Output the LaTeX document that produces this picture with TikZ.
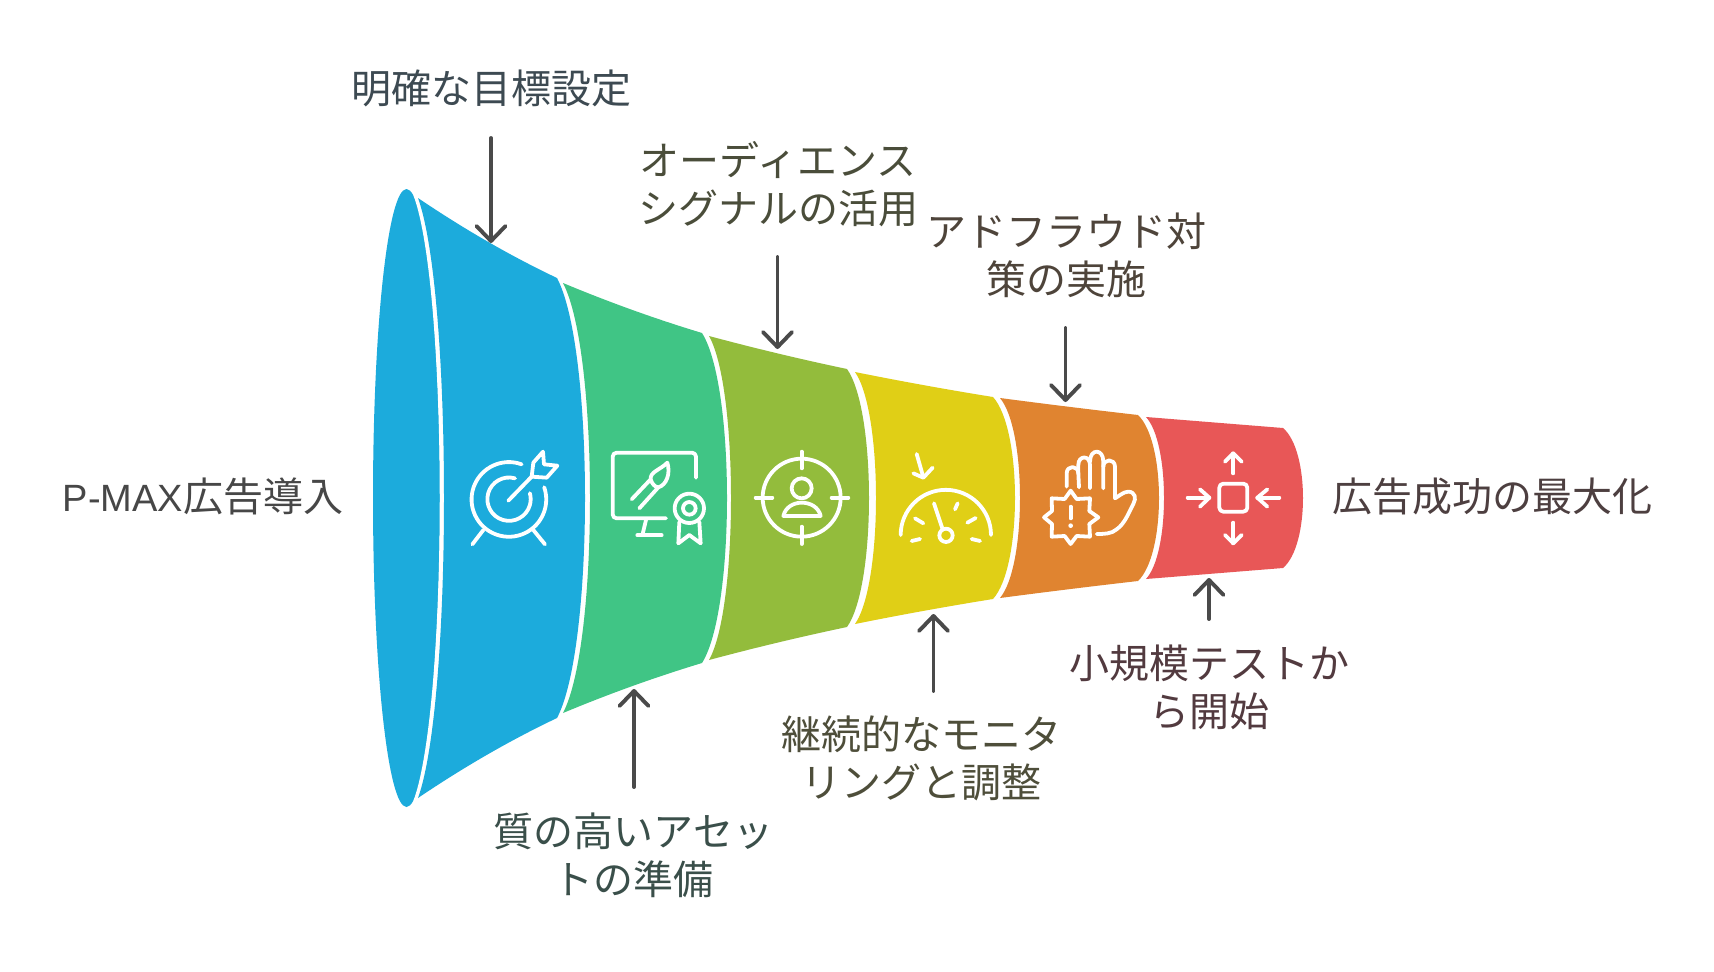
\documentclass[tikz,border=0pt]{standalone}
\usepackage{fontspec}
\setmainfont{Noto Sans CJK JP}
\newfontfamily\latinpart{Liberation Sans}
\usetikzlibrary{arrows.meta}
\definecolor{cblue}{HTML}{1CABDC}
\definecolor{cgreen}{HTML}{40C585}
\definecolor{colive}{HTML}{93BC3C}
\definecolor{cyellow}{HTML}{E0CF16}
\definecolor{corange}{HTML}{E08430}
\definecolor{cred}{HTML}{E85757}
\definecolor{arrowgrey}{HTML}{4A4A4A}
\tikzset{
  lbl/.style={align=center,inner sep=0pt,font=\fontsize{40}{48}\selectfont},
  conn/.style={draw=arrowgrey,line width=3.9pt,line cap=round,-{Straight Barb[length=15pt,width=29pt,round]}},
  icon/.style={draw=white,line width=3.8pt,line cap=round,line join=round},
}
% colour, left x, top y, left mid x, right x, top y, right mid x, sag
\newcommand{\fseg}[8]{%
  \pgfmathsetmacro{\fhl}{996-2*#3}\pgfmathsetmacro{\fhr}{996-2*#6}%
  \pgfmathsetmacro{\fkl}{0.16*\fhl}\pgfmathsetmacro{\fkr}{0.16*\fhr}%
  \pgfmathsetmacro{\fcl}{#2+4/3*(#4-#2)}\pgfmathsetmacro{\fcr}{#5+4/3*(#7-#5)}%
  \pgfmathsetmacro{\fax}{#2+(#5-#2)/3}\pgfmathsetmacro{\fbx}{#2+2*(#5-#2)/3}%
  \pgfmathsetmacro{\fay}{#3+(#6-#3)/3+4/3*#8}\pgfmathsetmacro{\fby}{#3+2*(#6-#3)/3+4/3*#8}%
  \pgfmathsetmacro{\fayb}{996-\fay}\pgfmathsetmacro{\fbyb}{996-\fby}%
  \pgfmathsetmacro{\fybl}{996-#3}\pgfmathsetmacro{\fybr}{996-#6}%
  \pgfmathsetmacro{\fctl}{#3+\fkl}\pgfmathsetmacro{\fcbl}{\fybl-\fkl}%
  \pgfmathsetmacro{\fctr}{#6+\fkr}\pgfmathsetmacro{\fcbr}{\fybr-\fkr}%
  \fill[#1] (#2,#3) .. controls (\fax,\fay) and (\fbx,\fby) .. (#5,#6)
    .. controls (\fcr,\fctr) and (\fcr,\fcbr) .. (#5,\fybr)
    .. controls (\fbx,\fbyb) and (\fax,\fayb) .. (#2,\fybl)
    .. controls (\fcl,\fcbl) and (\fcl,\fctl) .. cycle;%
}
\begin{document}
\begin{tikzpicture}[x=1pt,y=-1pt]
\useasboundingbox (0,0) rectangle (1714,972);
\fill[white] (0,0) rectangle (1714,972);
% funnel
\fill[cblue] (406.5,498) ellipse [x radius=33.5,y radius=309];
\draw[white,line width=4pt] (415.5,195) .. controls (450.5,291) and (450.5,705) .. (415.5,801);
\fseg{cblue}{418}{198}{444}{557}{278}{585}{3.5}
\fseg{cgreen}{563}{283}{590}{702}{333}{727}{2}
\fseg{colive}{709}{336}{731}{847}{369}{869}{1}
\fseg{cyellow}{855}{372}{876}{993}{397}{1015}{0.7}
\fseg{corange}{1000}{398}{1020}{1138}{415}{1159}{0.3}
\fseg{cred}{1146}{417}{1164}{1283}{428}{1303}{0}
% labels
\node[lbl,text=black!72,anchor=east] (pmax) at (343.5,496) {{\latinpart\fontsize{38}{48}\selectfont P-MAX}広告導入};
\node[lbl,text={rgb,255:red,61;green,74;blue,82}] (l1) at (491,88.5) {明確な目標設定};
\node[lbl,text={rgb,255:red,58;green,79;blue,74}] (l2) at (633.5,855) {質の高いアセッ\\トの準備};
\node[lbl,text={rgb,255:red,74;green,77;blue,58}] (l3) at (778,184.5) {オーディエンス\\シグナルの活用};
\node[lbl,text={rgb,255:red,78;green,78;blue,58}] (l4) at (921,758.5) {継続的なモニタ\\リングと調整};
\node[lbl,text={rgb,255:red,78;green,68;blue,58}] (l5) at (1066,255.5) {アドフラウド対\\策の実施};
\node[lbl,text={rgb,255:red,82;green,58;blue,63}] (l6) at (1209,687.5) {小規模テストか\\ら開始};
\node[lbl,text={rgb,255:red,77;green,63;blue,64}] (goal) at (1492,496) {広告成功の最大化};
% connector ends
\coordinate (a1s) at (491,138); \coordinate (a1e) at (491,243);
\coordinate (a2s) at (634,787); \coordinate (a2e) at (634,689);
\coordinate (a3s) at (777.5,257); \coordinate (a3e) at (777.5,349);
\coordinate (a4s) at (933.5,691); \coordinate (a4e) at (933.5,614);
\coordinate (a5s) at (1065.5,328); \coordinate (a5e) at (1065.5,402);
\coordinate (a6s) at (1209,619); \coordinate (a6e) at (1209,578);
\draw[conn] (a1s) -- (a1e);
\draw[conn] (a2s) -- (a2e);
\draw[conn] (a3s) -- (a3e);
\draw[conn] (a4s) -- (a4e);
\draw[conn] (a5s) -- (a5e);
\draw[conn] (a6s) -- (a6e);
% icons, left group
\begin{scope}[shift={(440,430)},x=0.33333pt,y=-0.33333pt]
  % target
  \draw[icon] (245,103) arc[start angle=-70,end angle=-379,radius=112];
  \draw[icon] (225,145) arc[start angle=-74,end angle=-376,radius=65];
  \draw[icon] (205,212) -- (275,140);
  \draw[icon] (275,140) -- (280,98) -- (309,65) -- (312,103) -- (352,107) -- (320,143) -- cycle;
  \draw[icon] (130,300) -- (97,343);
  \draw[icon] (280,300) -- (315,343);
  % monitor
  \draw[icon,rounded corners=4pt] (768,143) -- (768,68) -- (518,68) -- (518,265) -- (678,265);
  \draw[icon] (618,270) -- (607,316);
  \draw[icon] (592,316) -- (665,316);
  \draw[icon] (575,208) -- (632,148);
  \draw[icon] (598,235) -- (655,172);
  \draw[icon] (632,148) .. controls (630,125) and (660,120) .. (682,98)
     .. controls (692,130) and (680,165) .. (655,172) .. controls (645,172) and (635,160) .. cycle;
  \draw[icon] (748,235) circle[radius=44];
  \draw[icon] (748,235) circle[radius=19];
  \draw[icon] (718,276) -- (715,340) -- (748,315) -- (782,340) -- (778,276);
  % person in crosshair
  \draw[icon] (1085,203) circle[radius=117];
  \draw[icon] (1085,65) -- (1085,115);
  \draw[icon] (1085,290) -- (1085,342);
  \draw[icon] (947,203) -- (997,203);
  \draw[icon] (1175,203) -- (1225,203);
  \draw[icon] (1085,175) circle[radius=30];
  \draw[icon] (1030,258) .. controls (1036,232) and (1060,218) .. (1085,218)
     .. controls (1112,218) and (1136,232) .. (1142,258) -- cycle;
\end{scope}
% icons, right group
\begin{scope}[shift={(860,430)},x=0.33333pt,y=-0.33333pt]
  % gauge
  \draw[icon] (122,315) arc[start angle=-180,end angle=0,radius=135.5];
  \draw[icon] (222,220) -- (248,298);
  \draw[icon] (258,316) circle[radius=20];
  \draw[icon] (285,238) -- (293,220);
  \draw[icon] (322,278) -- (347,264);
  \draw[icon] (335,327) -- (360,333);
  \draw[icon] (155,333) -- (180,327);
  \draw[icon] (165,265) -- (190,280);
  \draw[icon] (170,72) -- (190,142);
  \draw[icon] (160,130) -- (190,143) -- (218,113);
  % hand
  \draw[icon] (620,170) -- (620,130) .. controls (620,105) and (655,105) .. (655,130) -- (657,172);
  \draw[icon] (655,130) -- (655,105) .. controls (655,75) and (690,75) .. (690,105) -- (690,175);
  \draw[icon] (690,95) .. controls (690,55) and (730,55) .. (730,95) -- (730,175);
  \draw[icon] (730,110) .. controls (730,85) and (765,85) .. (765,110) -- (765,205)
     .. controls (775,200) and (790,185) .. (805,185)
     .. controls (825,185) and (830,205) .. (820,222)
     .. controls (805,250) and (795,280) .. (770,298)
     .. controls (755,312) and (730,312) .. (710,312);
  \draw[icon] (632,182) -- (650,207) -- (690,205) -- (688,243) -- (715,262) -- (688,282)
     -- (690,320) -- (650,318) -- (632,342) -- (614,318) -- (575,320) -- (576,282)
     -- (552,262) -- (576,243) -- (575,205) -- (614,207) -- cycle;
  \draw[icon] (632,230) -- (632,265);
  \fill[white] (632,287) circle[radius=7];
  % arrows and square
  \draw[icon,rounded corners=4pt] (1078,161) rectangle (1162,245);
  \draw[icon] (1120,130) -- (1120,70);
  \draw[icon] (1095,95) -- (1120,70) -- (1145,95);
  \draw[icon] (1120,278) -- (1120,340);
  \draw[icon] (1095,315) -- (1120,340) -- (1145,315);
  \draw[icon] (983,203) -- (1048,203);
  \draw[icon] (1020,178) -- (1048,203) -- (1020,230);
  \draw[icon] (1258,203) -- (1192,203);
  \draw[icon] (1222,178) -- (1192,203) -- (1222,230);
\end{scope}
\end{tikzpicture}
\end{document}
